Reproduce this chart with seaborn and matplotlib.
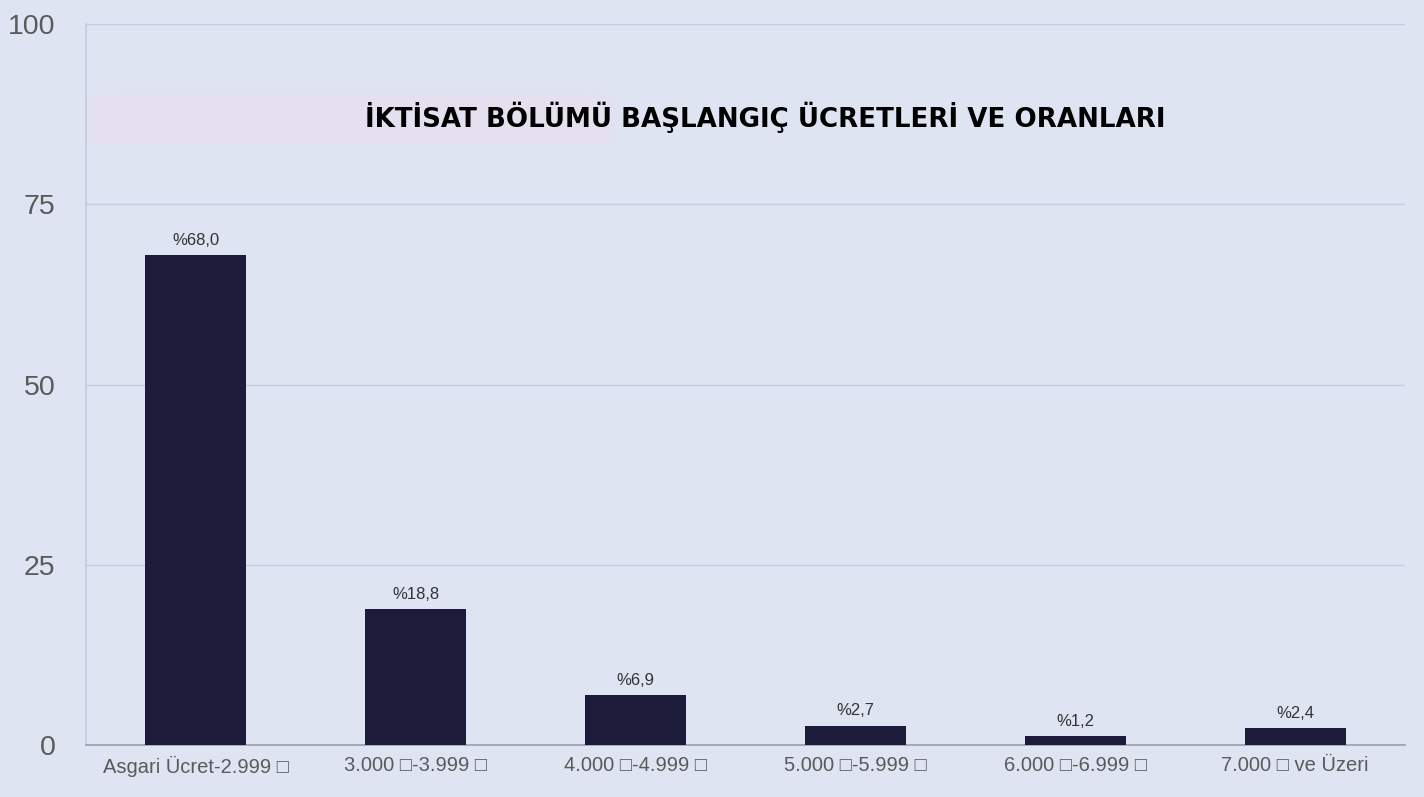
import matplotlib
matplotlib.use("Agg")
import matplotlib.pyplot as plt
import matplotlib.patches as mpatches
import seaborn as sns
import pandas as pd

categories = ["Asgari Ücret-2.999 □", "3.000 □-3.999 □", "4.000 □-4.999 □",
              "5.000 □-5.999 □", "6.000 □-6.999 □", "7.000 □ ve Üzeri"]
values = [68.0, 18.8, 6.9, 2.7, 1.2, 2.4]
value_labels = ["%68,0", "%18,8", "%6,9", "%2,7", "%1,2", "%2,4"]
yticks = [0, 25, 50, 75, 100]
title = "İKTİSAT BÖLÜMÜ BAŞLANGIÇ ÜCRETLERİ VE ORANLARI"

bg = "#dfe4f2"
sns.set_theme(style="white")
fam = ['Liberation Sans', 'DejaVu Sans']
plt.rcParams['font.family'] = fam

fig = plt.figure(figsize=(14.24, 7.97), dpi=100, facecolor=bg)
ax = fig.add_axes([0.0604, 0.0652, 0.9263, 0.9047])
ax.set_facecolor(bg)

df = pd.DataFrame({"cat": categories, "val": values})
sns.barplot(data=df, x="cat", y="val", color="#1c1b3a", width=0.46,
            saturation=1, edgecolor="none", linewidth=0, ax=ax, zorder=3)

ax.set_xlim(-0.5, 5.5)
ax.set_ylim(0, 100)
ax.set_yticks(yticks)
ax.set_yticklabels([str(t) for t in yticks], fontsize=20.5, color="#5a5a5a")
ax.tick_params(axis="y", length=0, pad=22)
ax.tick_params(axis="x", length=0, pad=8, labelsize=14.5, labelcolor="#5a5a5a")
for lab in ax.get_xticklabels():
    lab.set_family(fam)
ax.set_xlabel("")
ax.set_ylabel("")
ax.grid(axis="y", color="#c5cbe0", linewidth=1, zorder=0)
for s in ["top", "right"]:
    ax.spines[s].set_visible(False)
ax.spines["left"].set_color("#c5cbe0")
ax.spines["bottom"].set_color("#9a9faf")
ax.spines["bottom"].set_linewidth(1.2)

for i, (v, lab) in enumerate(zip(values, value_labels)):
    ax.text(i, v + 1.0, lab, ha="center", va="bottom", fontsize=12, color="#333333")

# faint pinkish patch behind title
ax.add_patch(mpatches.FancyBboxPatch((-0.3, 83.5), 2.0, 6.5, boxstyle="round,pad=0.2",
                                     facecolor="#ecdcec", edgecolor="none", alpha=0.45,
                                     zorder=1))
ax.text(2.59, 87.0, title, ha="center", va="center", fontsize=18.8, fontweight="bold",
        family=['DejaVu Sans'], color="#000000", zorder=4)

fig.savefig("out.png", dpi=100, facecolor=bg)
